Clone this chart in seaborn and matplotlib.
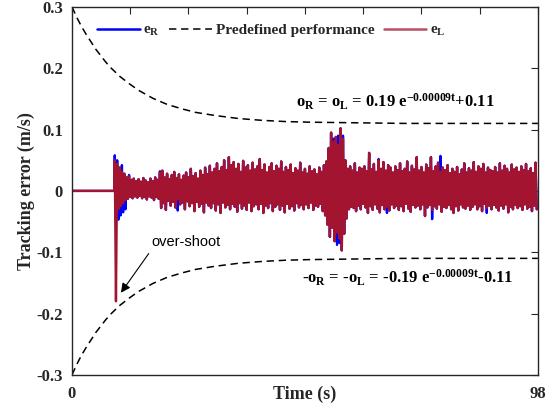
import numpy as np
import pandas as pd
import matplotlib
matplotlib.use("Agg")
import matplotlib.pyplot as plt
import seaborn as sns
from matplotlib.lines import Line2D

# ---- data ----
# prescribed performance envelope (m/s)
bound_t = [0, 1, 2, 3, 4, 5, 6, 7, 8, 10, 12, 14, 17, 20, 23, 26, 30, 35, 40, 45, 50, 60, 70, 80, 98]
upper_bound = [0.300, 0.283, 0.268, 0.255, 0.243, 0.231, 0.221, 0.211, 0.202, 0.187, 0.175, 0.164,
               0.151, 0.141, 0.134, 0.128, 0.123, 0.118, 0.115, 0.113, 0.112, 0.111, 0.110, 0.110, 0.110]
lower_bound = [-0.300, -0.283, -0.268, -0.255, -0.243, -0.231, -0.221, -0.211, -0.202, -0.187, -0.175, -0.164,
               -0.151, -0.141, -0.134, -0.128, -0.123, -0.118, -0.115, -0.113, -0.112, -0.111, -0.110, -0.110, -0.110]

# tracking error e_L: peaks every 0.5 s from t = 9 s (troughs 0.25 s later)
t_start, t_step = 9.0, 0.5
eL_peaks = [
    0.050, 0.044, 0.038, 0.032, 0.028, 0.022, 0.024, 0.018, 0.020, 0.016,
    0.019, 0.015, 0.021, 0.017, 0.014, 0.020, 0.016, 0.022, 0.018, 0.030,
    0.033, 0.022, 0.028, 0.019, 0.026, 0.031, 0.021, 0.027, 0.018, 0.025,
    0.030, 0.022, 0.036, 0.024, 0.029, 0.020, 0.033, 0.026, 0.038, 0.027,
    0.041, 0.030, 0.036, 0.045, 0.032, 0.039, 0.050, 0.034, 0.055, 0.042,
    0.047, 0.036, 0.044, 0.031, 0.049, 0.038, 0.042, 0.033, 0.046, 0.035,
    0.040, 0.052, 0.034, 0.043, 0.030, 0.039, 0.045, 0.032, 0.041, 0.036,
    0.048, 0.031, 0.039, 0.034, 0.043, 0.029, 0.037, 0.033, 0.046, 0.030,
    0.036, 0.028, 0.040, 0.032, 0.035, 0.027, 0.038, 0.031, 0.042, 0.048,
    0.070, 0.095, 0.080, 0.088, 0.075, 0.102, 0.085, 0.050, 0.036, 0.040,
    0.033, 0.045, 0.030, 0.038, 0.036, 0.040, 0.032, 0.062, 0.035, 0.044,
    0.031, 0.050, 0.036, 0.047, 0.033, 0.042, 0.038, 0.030, 0.040, 0.034,
    0.045, 0.032, 0.036, 0.048, 0.030, 0.041, 0.035, 0.055, 0.033, 0.039,
    0.030, 0.043, 0.037, 0.055, 0.032, 0.040, 0.046, 0.031, 0.038, 0.034,
    0.042, 0.029, 0.036, 0.031, 0.039, 0.027, 0.035, 0.045, 0.030, 0.037,
    0.033, 0.047, 0.031, 0.040, 0.036, 0.044, 0.030, 0.038, 0.034, 0.032,
    0.039, 0.030, 0.045, 0.033, 0.041, 0.036, 0.030, 0.043, 0.035, 0.038,
    0.031, 0.040, 0.034, 0.044, 0.032, 0.037, 0.029, 0.046,
]
eL_troughs = [
    -0.180, -0.030, -0.025, -0.020, -0.015, -0.013, -0.010, -0.012, -0.009, -0.011,
    -0.008, -0.012, -0.010, -0.014, -0.009, -0.011, -0.015, -0.010, -0.013, -0.028,
    -0.020, -0.031, -0.016, -0.024, -0.018, -0.027, -0.014, -0.022, -0.019, -0.030,
    -0.017, -0.025, -0.020, -0.033, -0.018, -0.026, -0.021, -0.035, -0.019, -0.024,
    -0.028, -0.020, -0.032, -0.022, -0.036, -0.019, -0.027, -0.023, -0.030, -0.021,
    -0.026, -0.034, -0.020, -0.029, -0.024, -0.031, -0.019, -0.033, -0.025, -0.022,
    -0.030, -0.021, -0.036, -0.024, -0.028, -0.020, -0.033, -0.026, -0.022, -0.031,
    -0.024, -0.035, -0.021, -0.029, -0.025, -0.032, -0.020, -0.027, -0.023, -0.030,
    -0.022, -0.028, -0.019, -0.031, -0.024, -0.026, -0.021, -0.033, -0.040, -0.055,
    -0.075, -0.060, -0.082, -0.068, -0.078, -0.097, -0.070, -0.045, -0.030, -0.026,
    -0.028, -0.033, -0.024, -0.030, -0.021, -0.027, -0.036, -0.025, -0.031, -0.022,
    -0.029, -0.035, -0.023, -0.030, -0.026, -0.032, -0.022, -0.028, -0.024, -0.031,
    -0.025, -0.033, -0.021, -0.029, -0.034, -0.023, -0.027, -0.024, -0.030, -0.022,
    -0.041, -0.027, -0.023, -0.031, -0.025, -0.029, -0.022, -0.034, -0.026, -0.028,
    -0.023, -0.030, -0.036, -0.025, -0.032, -0.022, -0.027, -0.029, -0.024, -0.031,
    -0.026, -0.022, -0.030, -0.025, -0.033, -0.021, -0.028, -0.024, -0.030, -0.023,
    -0.027, -0.032, -0.024, -0.029, -0.022, -0.035, -0.026, -0.030, -0.023, -0.028,
    -0.025, -0.031, -0.022, -0.029, -0.026, -0.033, -0.024, -0.030,
]

# e_R follows e_L closely; only the places where it pokes out are listed
eR_peak_t = [9.0, 9.5, 10.5, 12.0, 18.5, 55.0, 56.0, 57.0, 64.5, 77.5]
eR_peak_v = [0.058, 0.050, 0.042, 0.026, 0.032, 0.085, 0.090, 0.090, 0.052, 0.057]
eR_trough_t = [9.0, 9.5, 10.0, 10.5, 11.0, 22.0, 55.5, 56.0, 66.0, 75.5, 87.0]
eR_trough_v = [-0.050, -0.047, -0.040, -0.035, -0.030, -0.032, -0.088, -0.085, -0.036, -0.046, -0.036]


def zigzag(peaks, troughs):
    n = len(peaks)
    t_p = t_start + t_step * np.arange(n)
    t = np.empty(2 * n)
    e = np.empty(2 * n)
    t[0::2], t[1::2] = t_p, t_p + t_step / 2
    e[0::2], e[1::2] = peaks, troughs
    t = np.concatenate([[0.0, t_start - 0.1], t])
    e = np.concatenate([[0.0, 0.0], e])
    return pd.DataFrame({"t": t, "e": e})


eR_peaks = list(eL_peaks)
eR_troughs = list(eL_troughs)
for tt, v in zip(eR_peak_t, eR_peak_v):
    eR_peaks[int(round((tt - t_start) / t_step))] = v
for tt, v in zip(eR_trough_t, eR_trough_v):
    eR_troughs[int(round((tt - t_start) / t_step))] = v

df_L = zigzag(eL_peaks, eL_troughs)
df_R = zigzag(eR_peaks, eR_troughs)
df_b = pd.DataFrame({"t": bound_t, "up": upper_bound, "lo": lower_bound})

# ---- style ----
sns.set_theme(style="white")
plt.rcParams["font.family"] = ["Liberation Serif", "DejaVu Serif"]
plt.rcParams["font.weight"] = "bold"
plt.rcParams["mathtext.fontset"] = "custom"
plt.rcParams["mathtext.rm"] = "Liberation Serif:bold"
plt.rcParams["mathtext.it"] = "Liberation Serif:bold"
plt.rcParams["mathtext.bf"] = "Liberation Serif:bold"

blue = "#0000FF"
red = "#A2142F"
axcol = "#262626"

fig = plt.figure(figsize=(5.58, 4.04), dpi=100)
ax = fig.add_axes([0.129, 0.072, 0.835, 0.911])

sns.lineplot(data=df_R, x="t", y="e", color=blue, linewidth=1.7, estimator=None, sort=False, ax=ax)
sns.lineplot(data=df_L, x="t", y="e", color=red, linewidth=1.7, estimator=None, sort=False, ax=ax)
for col in ["up", "lo"]:
    sns.lineplot(data=df_b, x="t", y=col, color="black", linewidth=1.1, estimator=None, ax=ax)
    ax.lines[-1].set_dashes([4.8, 3.1])

ax.set_xlim(0, 98)
ax.set_ylim(-0.3, 0.3)
xt = np.linspace(0, 98, 9)
ax.set_xticks(xt)
ax.set_xticklabels(["0"] + [""] * 7 + ["98"])
ax.set_yticks([-0.3, -0.2, -0.1, 0, 0.1, 0.2, 0.3])
ax.set_yticklabels(["-0.3", "-0.2", "-0.1", "0", "0.1", "0.2", "0.3"])
ax.tick_params(direction="in", top=True, right=True, length=5, width=0.8,
               labelsize=12, colors=axcol, labelcolor=axcol)
ax.tick_params(axis="y", pad=6.5)
ax.tick_params(axis="x", pad=8)
for s in ax.spines.values():
    s.set_color(axcol)
    s.set_linewidth(1.0)

ax.set_xlabel("Time (s)", fontsize=13, fontweight="bold", color=axcol, labelpad=-12)
ax.set_ylabel("Tracking error (m/s)", fontsize=13, fontweight="bold", color=axcol, labelpad=1)

# legend
handles = [
    Line2D([], [], color=blue, lw=1.8),
    Line2D([], [], color="black", lw=1.1, dashes=[4.8, 3.1]),
    Line2D([], [], color=red, lw=1.8, alpha=0.75),
]
labels = [r"$\mathrm{e_R}$", "Predefined performance", r"$\mathrm{e_L}$"]
ax.legend(handles, labels, loc="center left", bbox_to_anchor=(0.04, 0.935), ncol=3,
          frameon=False, fontsize=11, handlelength=2.8, handletextpad=0.25,
          columnspacing=0.6, borderaxespad=0)

# envelope equations
ax.text(68.1, 0.145, r"o$_\mathrm{R}$ = o$_\mathrm{L}$ = 0.19 e$^{\mathrm{-0.00009t}}$+0.11",
        fontsize=12, ha="center", va="center", color="black")
ax.text(70.7, -0.142, r"-o$_\mathrm{R}$ = -o$_\mathrm{L}$ = -0.19 e$^{\mathrm{-0.00009t}}$-0.11",
        fontsize=12, ha="center", va="center", color="black")

ax.annotate("over-shoot", xy=(10.3, -0.166), xytext=(16.8, -0.095),
            fontsize=10.5, fontweight="normal", family="Liberation Sans",
            ha="left", va="bottom", color="black",
            arrowprops=dict(arrowstyle="-|>", color="black", lw=0.8,
                            mutation_scale=14, relpos=(0, 0), shrinkA=1, shrinkB=0))

fig.savefig("out.png", dpi=100)
